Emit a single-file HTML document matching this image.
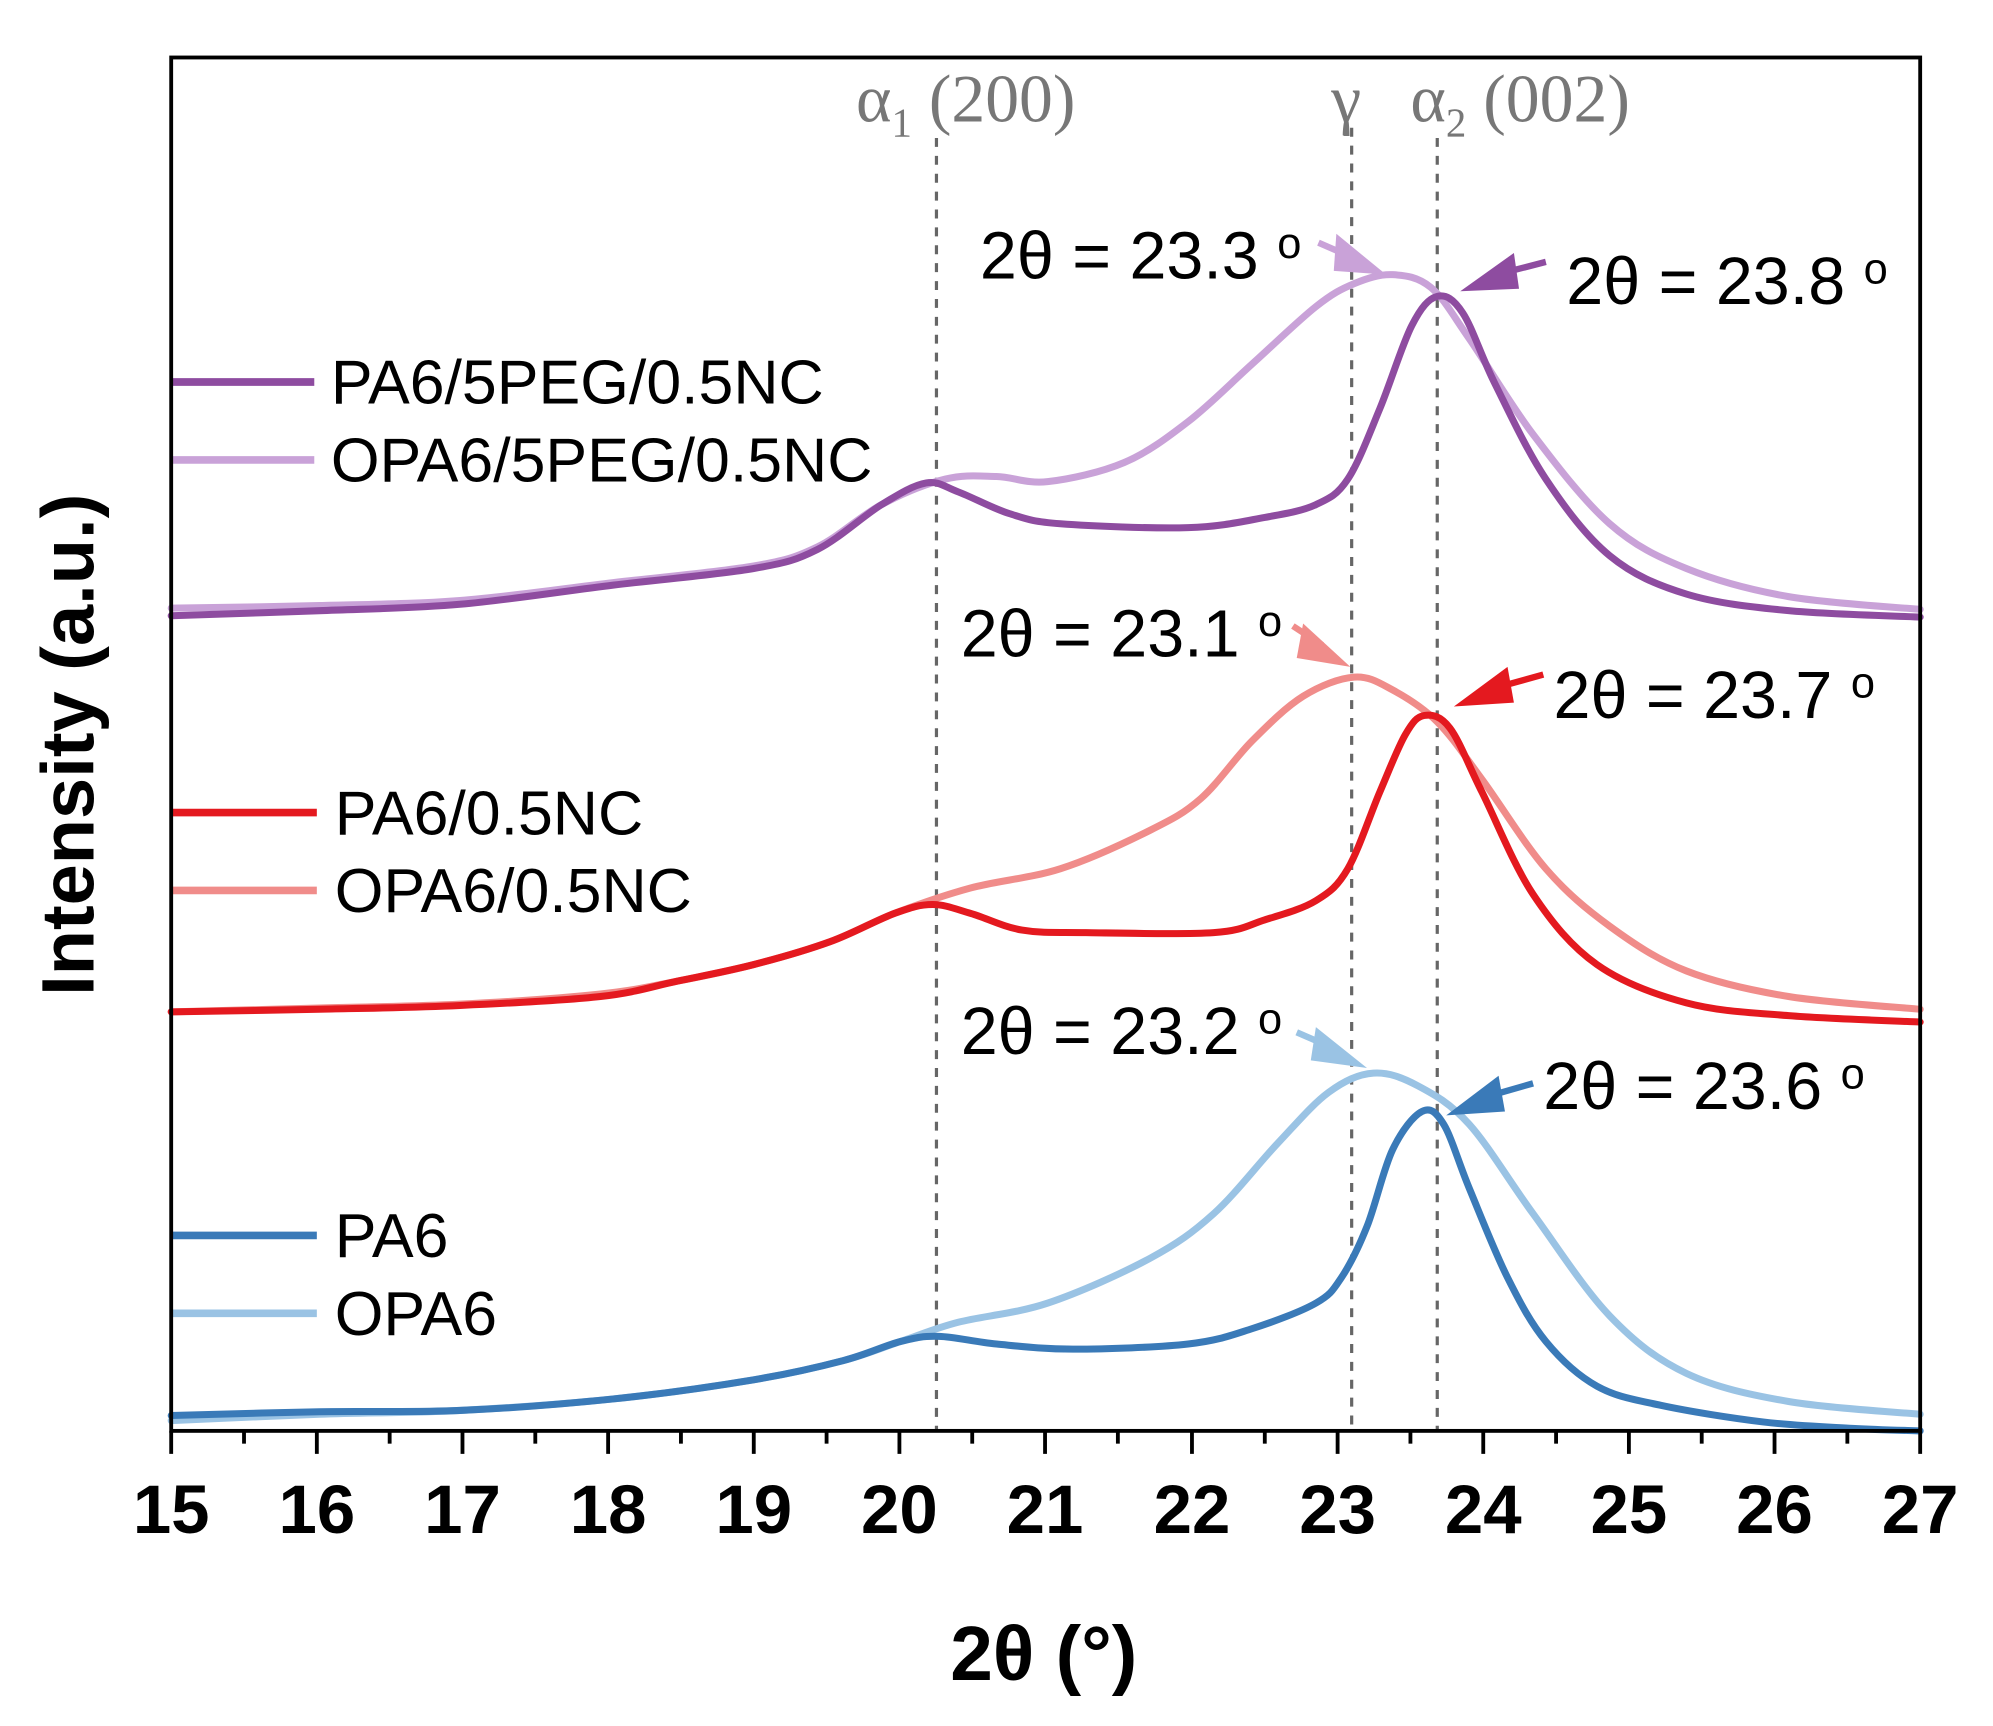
<!DOCTYPE html>
<html><head><meta charset="utf-8"><style>
html,body{margin:0;padding:0;background:#fff;}
svg{display:block;}
</style></head><body>
<svg id="s" width="1993" height="1726" viewBox="0 0 1560 1351" preserveAspectRatio="none" xmlns="http://www.w3.org/2000/svg">
<rect width="1560" height="1351" fill="#fff"/>
<g stroke="#666" stroke-width="2.5" stroke-dasharray="7,7">
<line x1="733" y1="108" x2="733" y2="1120"/>
<line x1="1058" y1="100" x2="1058" y2="1120"/>
<line x1="1125" y1="108" x2="1125" y2="1120"/>
</g>
<g font-family="Liberation Serif, serif" font-size="53" fill="#777">
<text x="670" y="95">α<tspan font-size="32" dy="12">1</tspan><tspan dy="-12"> (200)</tspan></text>
<text x="1042" y="95">γ</text>
<text x="1104" y="95">α<tspan font-size="32" dy="12">2</tspan><tspan dy="-12"> (002)</tspan></text>
</g>
<g fill="none" stroke-width="5.5" stroke-linejoin="round" stroke-linecap="round">
<polyline class="sm" stroke="#9ac3e4" points="134,1112 250,1107 360,1104 480,1095 590,1080 660,1065 705,1050 750,1035 820,1020 900,985 950,950 1000,895 1040,855 1075,840 1110,850 1150,880 1200,950 1260,1030 1320,1075 1400,1097 1503,1107"/>
<polyline class="sm" stroke="#3a7ab8" points="134,1108 250,1105 360,1104 480,1095 590,1080 660,1065 705,1050 735,1046 780,1052 840,1056 930,1052 980,1040 1030,1020 1050,1000 1070,960 1090,900 1113,870 1130,880 1150,930 1180,1000 1210,1050 1250,1085 1300,1100 1380,1113 1450,1118 1503,1120"/>
<polyline class="sm" stroke="#f08c8a" points="134,792 250,789 360,786 470,778 530,768 590,755 650,737 700,715 760,695 830,680 900,650 940,625 980,580 1020,545 1060,530 1090,540 1125,565 1160,610 1210,680 1260,725 1320,760 1400,780 1503,790"/>
<polyline class="sm" stroke="#e4191f" points="134,792 250,790 360,787 470,780 530,768 590,755 650,737 700,715 730,708 760,715 800,728 850,730 950,730 990,720 1030,705 1055,680 1080,620 1100,575 1115,560 1135,570 1160,620 1200,700 1250,755 1320,785 1400,795 1503,800"/>
<polyline class="sm" stroke="#c9a2d8" points="134,476 250,474 360,470 480,456 590,443 640,428 690,395 740,375 780,373 820,377 880,362 930,330 980,285 1030,240 1060,222 1090,215 1120,225 1150,265 1200,340 1260,410 1320,445 1400,467 1503,477"/>
<polyline class="sm" stroke="#8e4ca0" points="134,482 250,478 360,473 480,458 590,445 640,430 690,395 725,378 750,385 790,402 830,410 930,413 990,405 1030,395 1055,375 1080,320 1105,255 1125,232 1145,245 1170,300 1210,375 1260,435 1320,465 1400,478 1503,483"/>
</g>
<g stroke-width="6">
<line x1="134" y1="299" x2="246" y2="299" stroke="#8e4ca0"/>
<line x1="134" y1="360" x2="246" y2="360" stroke="#c9a2d8"/>
<line x1="134" y1="636" x2="248" y2="636" stroke="#e4191f"/>
<line x1="134" y1="697" x2="248" y2="697" stroke="#f08c8a"/>
<line x1="134" y1="967" x2="248" y2="967" stroke="#3a7ab8"/>
<line x1="134" y1="1028" x2="248" y2="1028" stroke="#9ac3e4"/>
</g>
<g font-family="Liberation Sans, sans-serif" font-size="49" fill="#000">
<text x="259" y="316">PA6/5PEG/0.5NC</text>
<text x="259" y="377">OPA6/5PEG/0.5NC</text>
<text x="262" y="653">PA6/0.5NC</text>
<text x="262" y="714">OPA6/0.5NC</text>
<text x="262" y="984">PA6</text>
<text x="262" y="1045">OPA6</text>
</g>
<g font-family="Liberation Sans, sans-serif" font-size="52" fill="#000">
<text x="767" y="218">2θ = 23.3 <tspan font-size="34" dy="-16">o</tspan></text>
<text x="1226" y="238">2θ = 23.8 <tspan font-size="34" dy="-16">o</tspan></text>
<text x="752" y="514">2θ = 23.1 <tspan font-size="34" dy="-16">o</tspan></text>
<text x="1216" y="562">2θ = 23.7 <tspan font-size="34" dy="-16">o</tspan></text>
<text x="752" y="825">2θ = 23.2 <tspan font-size="34" dy="-16">o</tspan></text>
<text x="1208" y="868">2θ = 23.6 <tspan font-size="34" dy="-16">o</tspan></text>
</g>
<g stroke-width="5">
<line x1="1032" y1="190" x2="1062" y2="203" stroke="#c9a2d8"/>
<polygon points="1085,215 1046,183 1044,212" fill="#c9a2d8"/>
<line x1="1210" y1="205" x2="1175" y2="214" stroke="#8e4ca0"/>
<polygon points="1143,228 1185,198 1189,226" fill="#8e4ca0"/>
<line x1="1012" y1="490" x2="1035" y2="505" stroke="#f08c8a"/>
<polygon points="1057,522 1020,488 1015,515" fill="#f08c8a"/>
<line x1="1208" y1="528" x2="1172" y2="538" stroke="#e4191f"/>
<polygon points="1138,553 1180,522 1185,550" fill="#e4191f"/>
<line x1="1015" y1="808" x2="1045" y2="821" stroke="#9ac3e4"/>
<polygon points="1070,836 1030,804 1026,830" fill="#9ac3e4"/>
<line x1="1200" y1="848" x2="1165" y2="858" stroke="#3a7ab8"/>
<polygon points="1132,873 1173,842 1178,870" fill="#3a7ab8"/>
</g>
<rect x="134" y="45" width="1369" height="1075" fill="none" stroke="#000" stroke-width="3"/>
<g stroke="#000" stroke-width="3">
<line x1="134" y1="1120" x2="134" y2="1138"/><line x1="191" y1="1120" x2="191" y2="1130"/>
<line x1="248" y1="1120" x2="248" y2="1138"/><line x1="305" y1="1120" x2="305" y2="1130"/>
<line x1="362" y1="1120" x2="362" y2="1138"/><line x1="419" y1="1120" x2="419" y2="1130"/>
<line x1="476" y1="1120" x2="476" y2="1138"/><line x1="533" y1="1120" x2="533" y2="1130"/>
<line x1="590" y1="1120" x2="590" y2="1138"/><line x1="647" y1="1120" x2="647" y2="1130"/>
<line x1="704" y1="1120" x2="704" y2="1138"/><line x1="761" y1="1120" x2="761" y2="1130"/>
<line x1="818" y1="1120" x2="818" y2="1138"/><line x1="875" y1="1120" x2="875" y2="1130"/>
<line x1="933" y1="1120" x2="933" y2="1138"/><line x1="990" y1="1120" x2="990" y2="1130"/>
<line x1="1047" y1="1120" x2="1047" y2="1138"/><line x1="1104" y1="1120" x2="1104" y2="1130"/>
<line x1="1161" y1="1120" x2="1161" y2="1138"/><line x1="1218" y1="1120" x2="1218" y2="1130"/>
<line x1="1275" y1="1120" x2="1275" y2="1138"/><line x1="1332" y1="1120" x2="1332" y2="1130"/>
<line x1="1389" y1="1120" x2="1389" y2="1138"/><line x1="1446" y1="1120" x2="1446" y2="1130"/>
<line x1="1503" y1="1120" x2="1503" y2="1138"/>
</g>
<g font-family="Liberation Sans, sans-serif" font-size="54" font-weight="bold" fill="#000" text-anchor="middle">
<text x="134" y="1200">15</text><text x="248" y="1200">16</text><text x="362" y="1200">17</text>
<text x="476" y="1200">18</text><text x="590" y="1200">19</text><text x="704" y="1200">20</text>
<text x="818" y="1200">21</text><text x="933" y="1200">22</text><text x="1047" y="1200">23</text>
<text x="1161" y="1200">24</text><text x="1275" y="1200">25</text><text x="1389" y="1200">26</text>
<text x="1503" y="1200">27</text>
<text x="817" y="1315" font-size="60">2θ (°)</text>
<text x="0" y="0" font-size="58" transform="translate(73,583) rotate(-90)">Intensity (a.u.)</text>
</g>
</svg>
<script>
document.querySelectorAll('polyline.sm').forEach(function(pl){
  var p=pl.getAttribute('points').trim().split(/\s+/).map(function(s){return s.split(',').map(Number);});
  var d='M'+p[0][0]+','+p[0][1];
  for(var i=0;i<p.length-1;i++){
    var p0=p[i-1]||p[i],p1=p[i],p2=p[i+1],p3=p[i+2]||p2;
    var c1=[p1[0]+(p2[0]-p0[0])/6,p1[1]+(p2[1]-p0[1])/6];
    var c2=[p2[0]-(p3[0]-p1[0])/6,p2[1]-(p3[1]-p1[1])/6];
    d+=' C'+c1[0]+','+c1[1]+' '+c2[0]+','+c2[1]+' '+p2[0]+','+p2[1];
  }
  var path=document.createElementNS('http://www.w3.org/2000/svg','path');
  path.setAttribute('d',d);path.setAttribute('stroke',pl.getAttribute('stroke'));
  pl.parentNode.replaceChild(path,pl);
});
</script>
</body></html>
